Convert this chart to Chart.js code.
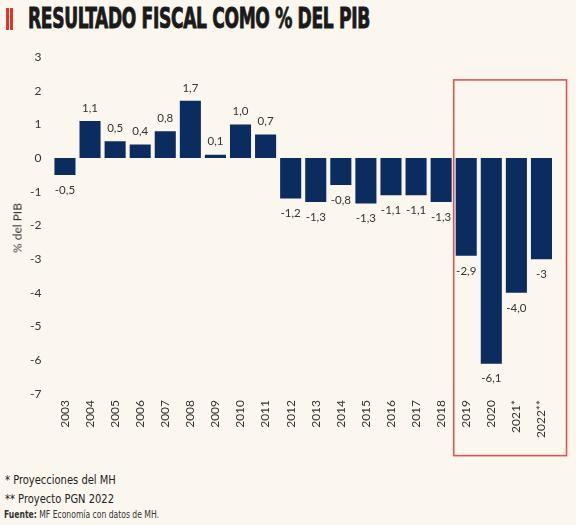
<!DOCTYPE html>
<html>
<head>
<meta charset="utf-8">
<script src="https://cdn.jsdelivr.net/npm/chart.js@4"></script>
<style>
  html, body { margin: 0; padding: 0; }
  body { width: 576px; height: 525px; background: #fcf7ee; position: relative; overflow: hidden; }
  #chartBox { position: absolute; left: 0; top: 0; width: 576px; height: 470px; }
  .redmark { position: absolute; top: 8px; width: 3px; height: 22px; background: #e2332b; }
  #title { position: absolute; left: 28px; top: 1px; font-family: "DejaVu Sans Condensed", "DejaVu Sans", sans-serif;
           font-weight: bold; font-size: 29px; color: #1a1a1a; white-space: nowrap; transform-origin: left top;
           letter-spacing: -0.5px; -webkit-text-stroke: 0.9px #1a1a1a; }
  #yTitle { position: absolute; left: 17px; top: 228px; font-family: Lato, "Open Sans", sans-serif; font-size: 12px;
            color: #333; white-space: nowrap; transform: translate(-50%, -50%) rotate(-90deg); }
  .note { position: absolute; left: 5px; font-family: "Liberation Sans Narrow", "DejaVu Sans Condensed", sans-serif;
          font-size: 13px; color: #222; white-space: nowrap; transform: scaleX(0.85); transform-origin: left top; }
  #source { position: absolute; left: 4px; top: 509px; font-family: "Liberation Sans Narrow", "DejaVu Sans Condensed", sans-serif;
            font-size: 10px; color: #333; white-space: nowrap; transform: scaleX(0.85); transform-origin: left top; }
</style>
</head>
<body>
<div class="redmark" style="left:6px"></div>
<div class="redmark" style="left:10px"></div>
<div id="title">RESULTADO FISCAL COMO % DEL PIB</div>
<div id="chartBox"><canvas id="fiscalChart"></canvas></div>
<div id="yTitle">% del PIB</div>
<div class="note" style="top:472px">* Proyecciones del MH</div>
<div class="note" style="top:491px">** Proyecto PGN 2022</div>
<div id="source"><b>Fuente:</b> MF Economía con datos de MH.</div>
<script>
// datos del grafico
const years = ["2003", "2004", "2005", "2006", "2007", "2008", "2009", "2010", "2011", "2012",
  "2013", "2014", "2015", "2016", "2017", "2018", "2019", "2020", "2021*", "2022**"];
const fiscalResult = [-0.5, 1.1, 0.5, 0.4, 0.8, 1.7, 0.1, 1.0, 0.7, -1.2,
  -1.3, -0.8, -1.35, -1.1, -1.1, -1.3, -2.9, -6.1, -4.0, -3.0];
const valueLabels = ["-0,5", "1,1", "0,5", "0,4", "0,8", "1,7", "0,1", "1,0", "0,7", "-1,2",
  "-1,3", "-0,8", "-1,3", "-1,1", "-1,1", "-1,3", "-2,9", "-6,1", "-4,0", "-3"];
const yTicks = [3, 2, 1, 0, -1, -2, -3, -4, -5, -6, -7];
const highlightFrom = 16; // 2019 en adelante

const barColor = "#0b2c5f";
const textColor = "#333333";

// fit the title to its width in the reference
let title = document.getElementById("title");
title.style.transform = "scaleX(" + (342 / title.offsetWidth) + ")";

// etiquetas de valor encima / debajo de cada barra
const valueLabelPlugin = {
  id: "valueLabels",
  afterDatasetsDraw(chart) {
    let ctx = chart.ctx;
    let meta = chart.getDatasetMeta(0);
    ctx.save();
    ctx.font = "11.5px Lato, 'Open Sans', sans-serif";
    ctx.fillStyle = textColor;
    ctx.textAlign = "center";
    ctx.textBaseline = "middle";
    meta.data.forEach(function (bar, i) {
      let v = fiscalResult[i];
      let y = v >= 0 ? bar.y - 13 : bar.y + 15;
      ctx.fillText(valueLabels[i], bar.x, y);
    });
    ctx.restore();
  },
};

// recuadro rojo de 2019-2022
const highlightPlugin = {
  id: "highlightBox",
  afterDraw(chart) {
    let x = chart.scales.x;
    let y = chart.scales.y;
    let ctx = chart.ctx;
    let left = x.getPixelForValue(highlightFrom - 0.5);
    let right = x.getPixelForValue(years.length);
    let top = y.getPixelForValue(2.32);
    let bottom = y.getPixelForValue(-8.83);
    ctx.save();
    ctx.strokeStyle = "#d9545a";
    ctx.lineWidth = 1.6;
    ctx.strokeRect(left, top, right - left, bottom - top);
    ctx.restore();
  },
};

let fiscalChart = new Chart("fiscalChart", {
  type: "bar",
  data: {
    labels: years,
    datasets: [
      {
        label: "% del PIB",
        data: fiscalResult,
        backgroundColor: barColor,
        borderWidth: 0,
        barPercentage: 0.84,
        categoryPercentage: 1.0,
      },
    ],
  },
  options: {
    responsive: true,
    maintainAspectRatio: false,
    animation: false,
    layout: {
      padding: { top: 57, right: 22, bottom: 26, left: 19 },
    },
    plugins: {
      legend: { display: false },
      tooltip: { enabled: false },
    },
    scales: {
      x: {
        grid: { display: false, drawTicks: false },
        border: { display: false },
        ticks: {
          color: textColor,
          font: { family: "Lato, 'Open Sans', sans-serif", size: 12 },
          maxRotation: 90,
          minRotation: 90,
          padding: 6,
          autoSkip: false,
        },
      },
      y: {
        min: -7,
        max: 3,
        afterBuildTicks: function (axis) {
          axis.ticks = yTicks.map(function (v) { return { value: v }; });
        },
        grid: { display: false, drawTicks: false },
        border: { display: false },
        ticks: {
          color: textColor,
          font: { family: "Lato, 'Open Sans', sans-serif", size: 12 },
          padding: 11,
        },
      },
    },
  },
  plugins: [valueLabelPlugin, highlightPlugin],
});
</script>
</body>
</html>
